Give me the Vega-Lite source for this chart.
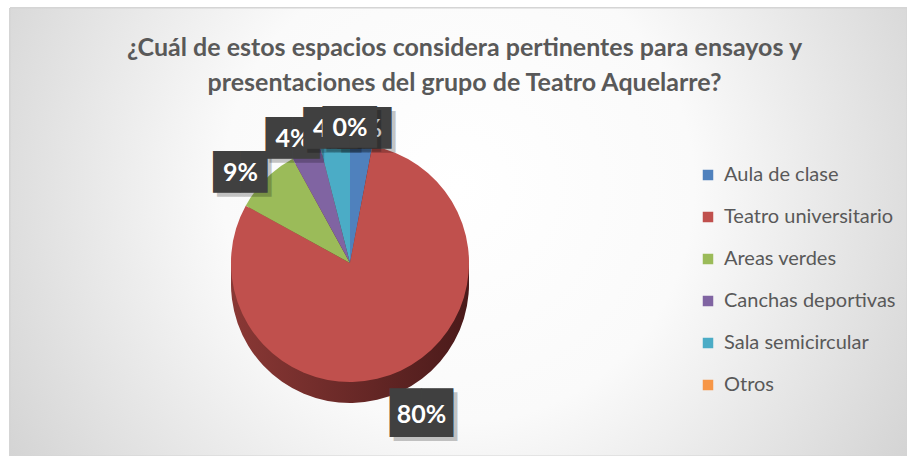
{
  "$schema": "https://vega.github.io/schema/vega-lite/v6.json",
  "width": 897,
  "height": 448,
  "autosize": {"type": "none"},
  "padding": {"left": 10, "top": 8, "right": 0, "bottom": 0},
  "background": "#ffffff",
  "config": {"view": {"stroke": null}},
  "title": {
    "text": ["¿Cuál de estos espacios considera pertinentes para ensayos y", "presentaciones del grupo de Teatro Aquelarre?"],
    "font": "Lato",
    "fontSize": 25,
    "fontWeight": "bold",
    "color": "#595959",
    "lineHeight": 35,
    "anchor": "middle",
    "frame": "group",
    "offset": -88,
    "dx": 6
  },
  "data": {
    "values": [
      {"i": 1, "cat": "Aula de clase", "pct": 3, "label": "3%"},
      {"i": 2, "cat": "Teatro universitario", "pct": 80, "label": "80%"},
      {"i": 3, "cat": "Areas verdes", "pct": 9, "label": "9%"},
      {"i": 4, "cat": "Canchas deportivas", "pct": 4, "label": "4%"},
      {"i": 5, "cat": "Sala semicircular", "pct": 4, "label": "4%"},
      {"i": 6, "cat": "Otros", "pct": 0, "label": "0%"}
    ]
  },
  "layer": [
    {
      "mark": {
        "type": "rect",
        "stroke": "#d4d4d4",
        "strokeWidth": 1,
        "fill": {
          "gradient": "radial",
          "x1": 0.5, "y1": 0.45, "r1": 0,
          "x2": 0.5, "y2": 0.45, "r2": 0.75,
          "stops": [
            {"offset": 0, "color": "#ffffff"},
            {"offset": 0.35, "color": "#fafafa"},
            {"offset": 1, "color": "#c0c0c0"}
          ]
        }
      },
      "encoding": {}
    },
    {
      "mark": {"type": "arc", "radius": 119, "x": 340, "y": 276, "fill": {"gradient": "linear", "x1": 0, "y1": 0, "x2": 1, "y2": 0, "stops": [{"offset": 0, "color": "#8a3835"}, {"offset": 1, "color": "#4a1a1a"}]}},
      "encoding": {"theta": {"field": "pct", "type": "quantitative", "stack": true}, "order": {"field": "i", "type": "quantitative"}}
    },
    {
      "mark": {"type": "arc", "radius": 119, "x": 340, "y": 269, "fill": {"gradient": "linear", "x1": 0, "y1": 0, "x2": 1, "y2": 0, "stops": [{"offset": 0, "color": "#8a3835"}, {"offset": 1, "color": "#4a1a1a"}]}},
      "encoding": {"theta": {"field": "pct", "type": "quantitative", "stack": true}, "order": {"field": "i", "type": "quantitative"}}
    },
    {
      "mark": {"type": "arc", "radius": 119, "x": 340, "y": 262, "fill": {"gradient": "linear", "x1": 0, "y1": 0, "x2": 1, "y2": 0, "stops": [{"offset": 0, "color": "#8a3835"}, {"offset": 1, "color": "#4a1a1a"}]}},
      "encoding": {"theta": {"field": "pct", "type": "quantitative", "stack": true}, "order": {"field": "i", "type": "quantitative"}}
    },
    {
      "mark": {"type": "arc", "radius": 119, "x": 340, "y": 255},
      "encoding": {
        "theta": {"field": "pct", "type": "quantitative", "stack": true},
        "order": {"field": "i", "type": "quantitative"},
        "color": {
          "field": "cat",
          "type": "nominal",
          "sort": ["Aula de clase", "Teatro universitario", "Areas verdes", "Canchas deportivas", "Sala semicircular", "Otros"],
          "scale": {"range": ["#4F81BD", "#C0504D", "#9BBB59", "#8064A2", "#4BACC6", "#F79646"]},
          "legend": {
            "title": null,
            "orient": "none",
            "legendX": 688,
            "legendY": 157,
            "symbolType": "square",
            "symbolSize": 110,
            "symbolStrokeWidth": 0,
            "labelFont": "Lato",
            "labelFontSize": 20,
            "labelColor": "#595959",
            "labelLimit": 300,
            "labelOffset": 6,
            "rowPadding": 22
          }
        }
      }
    },
    {
      "mark": {"type": "text", "x": 340, "y": 255, "radius": 168, "text": "██", "font": "DejaVu Sans", "fontSize": 41, "align": "center", "baseline": "middle", "color": "#000000", "dx": 4, "dy": 4},
      "encoding": {"theta": {"field": "pct", "type": "quantitative", "stack": true}, "order": {"field": "i", "type": "quantitative"}, "opacity": {"condition": {"test": "datum.i == 2", "value": 0.22}, "value": 0}}
    },
    {
      "mark": {"type": "text", "x": 340, "y": 255, "radius": 168, "text": "██", "font": "DejaVu Sans", "fontSize": 41, "align": "center", "baseline": "middle", "color": "#404040"},
      "encoding": {"theta": {"field": "pct", "type": "quantitative", "stack": true}, "order": {"field": "i", "type": "quantitative"}, "opacity": {"condition": {"test": "datum.i == 2", "value": 1}, "value": 0}}
    },
    {
      "mark": {"type": "text", "x": 340, "y": 255, "radius": 168, "font": "Lato", "fontSize": 25, "fontWeight": "bold", "align": "center", "baseline": "middle", "color": "#ffffff"},
      "encoding": {"theta": {"field": "pct", "type": "quantitative", "stack": true}, "order": {"field": "i", "type": "quantitative"}, "text": {"field": "label", "type": "nominal"}, "opacity": {"condition": {"test": "datum.i == 2", "value": 1}, "value": 0}}
    },
    {
      "mark": {"type": "text", "x": 340, "y": 275, "radius": 155, "text": "██", "font": "DejaVu Sans", "fontSize": 35, "align": "center", "baseline": "middle", "color": "#000000", "dx": 4, "dy": 4},
      "encoding": {"theta": {"field": "pct", "type": "quantitative", "stack": true}, "order": {"field": "i", "type": "quantitative"}, "opacity": {"condition": {"test": "datum.i == 1 || datum.i == 3 || datum.i == 4", "value": 0.22}, "value": 0}}
    },
    {
      "mark": {"type": "text", "x": 340, "y": 275, "radius": 155, "text": "██", "font": "DejaVu Sans", "fontSize": 35, "align": "center", "baseline": "middle", "color": "#404040"},
      "encoding": {"theta": {"field": "pct", "type": "quantitative", "stack": true}, "order": {"field": "i", "type": "quantitative"}, "opacity": {"condition": {"test": "datum.i == 1 || datum.i == 3 || datum.i == 4", "value": 1}, "value": 0}}
    },
    {
      "mark": {"type": "text", "x": 340, "y": 275, "radius": 155, "font": "Lato", "fontSize": 25, "fontWeight": "bold", "align": "center", "baseline": "middle", "color": "#ffffff"},
      "encoding": {"theta": {"field": "pct", "type": "quantitative", "stack": true}, "order": {"field": "i", "type": "quantitative"}, "text": {"field": "label", "type": "nominal"}, "opacity": {"condition": {"test": "datum.i == 1 || datum.i == 3 || datum.i == 4", "value": 1}, "value": 0}}
    },
    {
      "mark": {"type": "text", "x": 340, "y": 275, "radius": 155, "text": "██", "font": "DejaVu Sans", "fontSize": 35, "align": "center", "baseline": "middle", "color": "#000000", "dx": 4, "dy": 4},
      "encoding": {"theta": {"field": "pct", "type": "quantitative", "stack": true}, "order": {"field": "i", "type": "quantitative"}, "opacity": {"condition": {"test": "datum.i == 5", "value": 0.22}, "value": 0}}
    },
    {
      "mark": {"type": "text", "x": 340, "y": 275, "radius": 155, "text": "██", "font": "DejaVu Sans", "fontSize": 35, "align": "center", "baseline": "middle", "color": "#404040"},
      "encoding": {"theta": {"field": "pct", "type": "quantitative", "stack": true}, "order": {"field": "i", "type": "quantitative"}, "opacity": {"condition": {"test": "datum.i == 5", "value": 1}, "value": 0}}
    },
    {
      "mark": {"type": "text", "x": 340, "y": 275, "radius": 155, "font": "Lato", "fontSize": 25, "fontWeight": "bold", "align": "center", "baseline": "middle", "color": "#ffffff"},
      "encoding": {"theta": {"field": "pct", "type": "quantitative", "stack": true}, "order": {"field": "i", "type": "quantitative"}, "text": {"field": "label", "type": "nominal"}, "opacity": {"condition": {"test": "datum.i == 5", "value": 1}, "value": 0}}
    },
    {
      "mark": {"type": "text", "x": 340, "y": 275, "radius": 155, "text": "██", "font": "DejaVu Sans", "fontSize": 35, "align": "center", "baseline": "middle", "color": "#000000", "dx": 4, "dy": 4},
      "encoding": {"theta": {"field": "pct", "type": "quantitative", "stack": true}, "order": {"field": "i", "type": "quantitative"}, "opacity": {"condition": {"test": "datum.i == 6", "value": 0.22}, "value": 0}}
    },
    {
      "mark": {"type": "text", "x": 340, "y": 275, "radius": 155, "text": "██", "font": "DejaVu Sans", "fontSize": 35, "align": "center", "baseline": "middle", "color": "#404040"},
      "encoding": {"theta": {"field": "pct", "type": "quantitative", "stack": true}, "order": {"field": "i", "type": "quantitative"}, "opacity": {"condition": {"test": "datum.i == 6", "value": 1}, "value": 0}}
    },
    {
      "mark": {"type": "text", "x": 340, "y": 275, "radius": 155, "font": "Lato", "fontSize": 25, "fontWeight": "bold", "align": "center", "baseline": "middle", "color": "#ffffff"},
      "encoding": {"theta": {"field": "pct", "type": "quantitative", "stack": true}, "order": {"field": "i", "type": "quantitative"}, "text": {"field": "label", "type": "nominal"}, "opacity": {"condition": {"test": "datum.i == 6", "value": 1}, "value": 0}}
    }
  ]
}
